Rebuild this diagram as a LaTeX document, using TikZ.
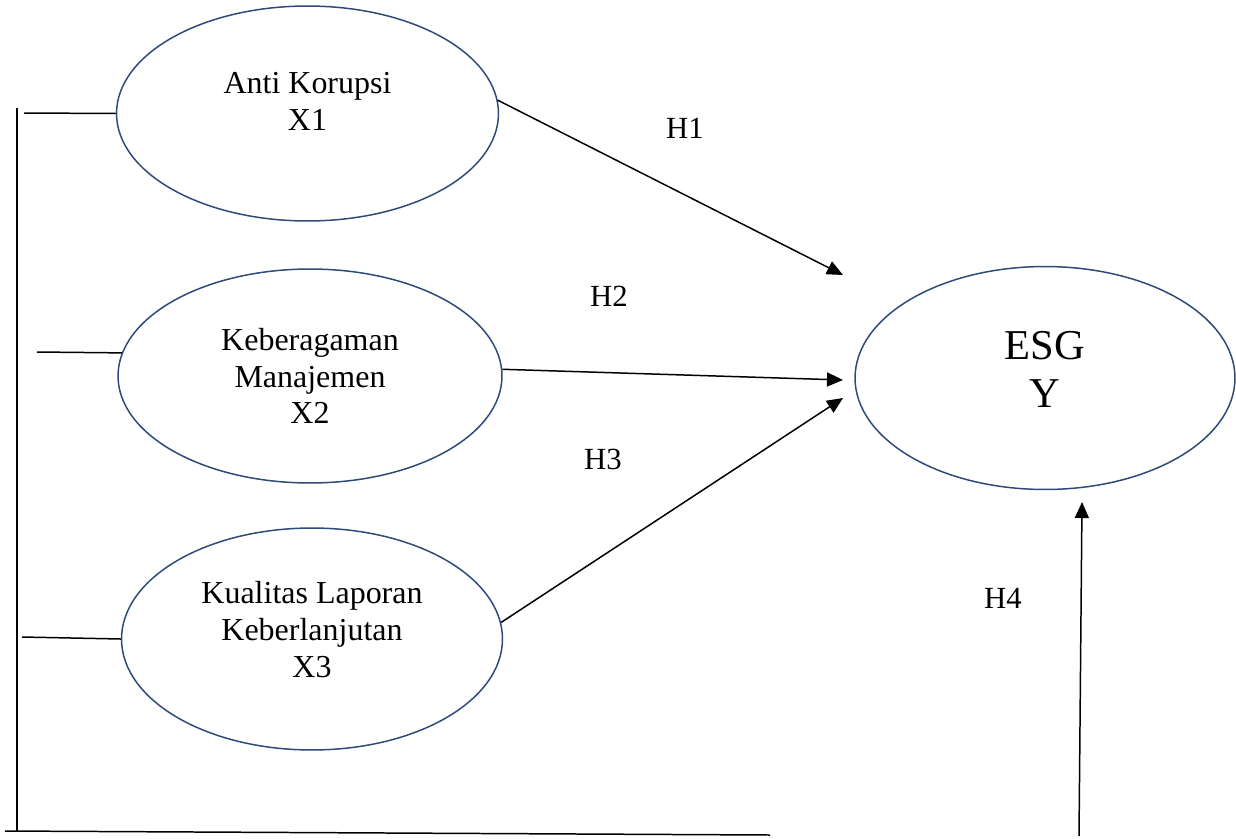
\documentclass[tikz,border=0pt]{standalone}
\usepackage{fontspec}
\setmainfont{Liberation Serif}
\usepackage{tikz}
\usetikzlibrary{shapes.geometric, arrows.meta}
\definecolor{garisbiru}{HTML}{2E4A7A}
\tikzstyle{variabel} = [ellipse, draw=garisbiru, line width=0.85pt, minimum width=7.64cm, minimum height=4.3cm, inner sep=0pt, align=center, font=\fontsize{18.2}{21}\selectfont]
\tikzstyle{arrow} = [line width=0.85pt, -{Triangle[length=0.32cm, width=0.28cm]}]
\tikzstyle{garis} = [line width=0.85pt]
\tikzstyle{hipotesis} = [font=\fontsize{17.5}{20}\selectfont]

\begin{document}
\begin{tikzpicture}[x=0.02cm, y=-0.02cm]
        \useasboundingbox (0,0) rectangle (1236,838);
        \node (anti-korupsi) [variabel, text depth=0.48cm] at (307.5,113.5) {Anti Korupsi\\X1};
        \node (keberagaman) [variabel, minimum width=7.68cm, minimum height=4.28cm] at (310,376) {Keberagaman\\Manajemen\\X2};
        \node (kualitas-laporan) [variabel, minimum width=7.62cm, minimum height=4.44cm, text depth=0.38cm] at (312,639) {Kualitas Laporan\\Keberlanjutan\\X3};
        \node (esg) [variabel, minimum width=7.6cm, minimum height=4.46cm, text depth=0.36cm, font=\fontsize{24.2}{27.3}\selectfont] at (1045,378) {ESG\\Y};

        \coordinate (kiri-atas) at (17,108);
        \coordinate (kiri-bawah) at (17,832);
        \coordinate (bawah-kiri) at (5,831);
        \coordinate (bawah-kanan) at (770,835);
        \coordinate (cabang1) at (24,113);
        \coordinate (cabang2) at (37,352);
        \coordinate (cabang3) at (22,637);
        \coordinate (ujung1) at (843,275);
        \coordinate (ujung2) at (843,380);
        \coordinate (ujung3) at (843,398);
        \coordinate (pangkal4) at (1079,836);
        \coordinate (ujung4) at (1082,502);

        \draw [garis] (kiri-atas) -- (kiri-bawah);
        \draw [garis] (bawah-kiri) -- (bawah-kanan);
        \draw [garis] (cabang1) -- (anti-korupsi.west);
        \draw [garis] (cabang2) -- (keberagaman.173);
        \draw [garis] (cabang3) -- (kualitas-laporan.west);

        \draw [arrow] (anti-korupsi.4) -- (ujung1);
        \draw [arrow] (keberagaman.2) -- (ujung2);
        \draw [arrow] (kualitas-laporan.5) -- (ujung3);
        \draw [arrow] (pangkal4) -- (ujung4);

        \node (h1) [hipotesis] at (685,128) {H1};
        \node (h2) [hipotesis] at (609,296) {H2};
        \node (h3) [hipotesis] at (603,459) {H3};
        \node (h4) [hipotesis] at (1003,598) {H4};
    \end{tikzpicture}
\end{document}
